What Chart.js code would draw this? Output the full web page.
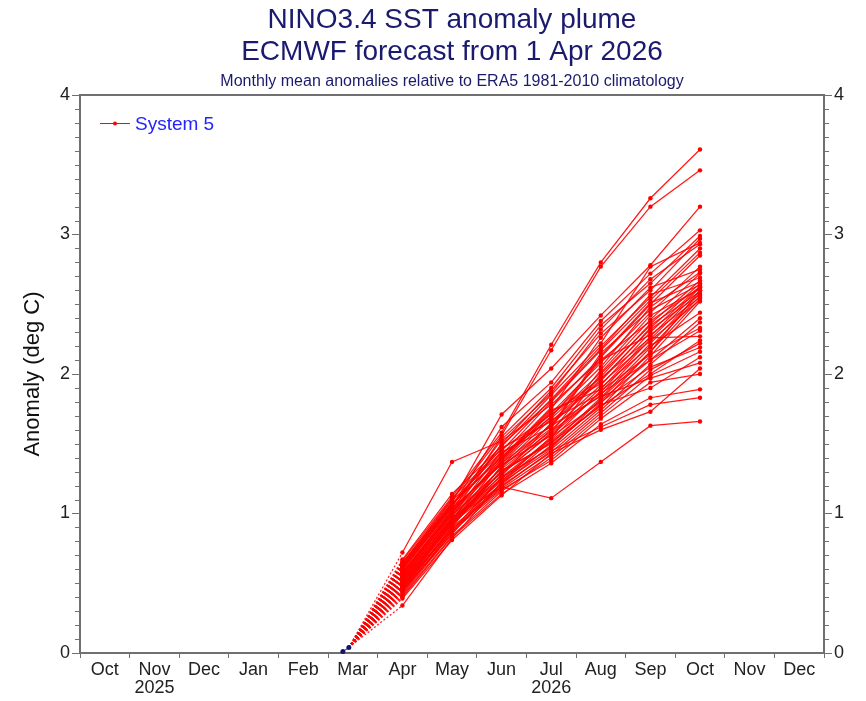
<!DOCTYPE html>
<html>
<head>
<meta charset="utf-8">
<title>NINO3.4 SST anomaly plume</title>
<script src="https://cdn.jsdelivr.net/npm/chart.js@4/dist/chart.umd.min.js"></script>
<style>
  body { margin: 0; background: #fff; }
  canvas { display: block; }
</style>
</head>
<body>
<canvas id="plume" width="866" height="701"></canvas>
<script>
// month axis: Oct 2025 = 0 ... Dec 2026 = 14
const monthLabels = ['Oct', ['Nov', '2025'], 'Dec', 'Jan', 'Feb', 'Mar', 'Apr', 'May', 'Jun',
  ['Jul', '2026'], 'Aug', 'Sep', 'Oct', 'Nov', 'Dec'];
const yTicks = [0, 1, 2, 3, 4];

// observed (analysis) points just before the start date
const obsX = [4.8, 4.92];
const obsY = [0.01, 0.04];

// forecast months (index on the month axis)
const fcX = [6, 7, 8, 9, 10, 11, 12];

// 51 ensemble members, one array per forecast month
const aprVals = [0.66, 0.64, 0.72, 0.46, 0.34, 0.62, 0.60, 0.58, 0.55, 0.67, 0.53, 0.50, 0.65, 0.48, 0.57, 0.44, 0.61,
  0.52, 0.63, 0.49, 0.56, 0.47, 0.59, 0.43, 0.54, 0.51, 0.45, 0.62, 0.50, 0.57, 0.42, 0.55, 0.60, 0.46,
  0.53, 0.64, 0.48, 0.52, 0.41, 0.58, 0.44, 0.51, 0.40, 0.47, 0.54, 0.39, 0.63, 0.56, 0.49, 0.61, 0.45];
const mayVals = [1.12, 1.10, 1.37, 0.96, 0.82, 1.08, 1.05, 1.02, 1.00, 1.14, 0.98, 0.95, 1.07, 0.93, 1.03, 0.90, 1.06,
  0.97, 1.09, 0.94, 1.01, 0.92, 1.04, 0.88, 0.99, 0.96, 0.91, 1.07, 0.95, 1.02, 0.86, 0.99, 1.04, 0.90,
  0.97, 1.11, 0.89, 0.94, 0.84, 1.00, 0.87, 0.93, 0.83, 0.88, 0.96, 0.81, 1.06, 1.01, 0.92, 1.05, 0.85];
const junVals = [1.58, 1.56, 1.52, 1.19, 1.22, 1.71, 1.62, 1.55, 1.50, 1.48, 1.45, 1.42, 1.40, 1.38, 1.36, 1.34, 1.47,
  1.33, 1.44, 1.30, 1.39, 1.28, 1.35, 1.26, 1.32, 1.27, 1.31, 1.41, 1.24, 1.37, 1.22, 1.29, 1.43, 1.20,
  1.25, 1.46, 1.18, 1.23, 1.16, 1.36, 1.17, 1.21, 1.14, 1.19, 1.30, 1.13, 1.49, 1.39, 1.34, 1.53, 1.26];
const julVals = [2.21, 2.17, 1.78, 1.11, 1.52, 2.04, 1.94, 1.90, 1.88, 1.85, 1.82, 1.80, 1.76, 1.72, 1.70, 1.68, 1.66,
  1.64, 1.62, 1.60, 1.74, 1.58, 1.56, 1.54, 1.59, 1.65, 1.50, 1.69, 1.48, 1.73, 1.46, 1.57, 1.67, 1.44,
  1.53, 1.71, 1.42, 1.55, 1.40, 1.63, 1.38, 1.49, 1.36, 1.45, 1.51, 1.43, 1.81, 1.75, 1.61, 1.86, 1.47];
const augVals = [2.80, 2.77, 2.10, 1.37, 1.81, 2.42, 2.38, 2.35, 2.29, 2.22, 2.20, 2.17, 2.12, 2.08, 2.05, 2.01, 1.98,
  1.95, 2.15, 1.92, 1.89, 2.03, 1.87, 2.00, 1.85, 1.96, 1.83, 2.10, 1.79, 1.93, 1.76, 1.90, 1.86, 1.74,
  1.88, 1.97, 1.72, 1.80, 1.70, 1.84, 1.68, 1.78, 1.64, 1.62, 1.77, 1.60, 2.18, 2.26, 2.13, 2.32, 1.82];
const sepVals = [3.26, 3.20, 2.38, 1.63, 2.10, 2.78, 2.72, 2.65, 2.60, 2.77, 2.55, 2.53, 2.50, 2.44, 2.48, 2.39, 2.36,
  2.33, 2.46, 2.30, 2.27, 2.42, 2.25, 2.35, 2.22, 2.32, 2.19, 2.28, 2.16, 2.24, 2.13, 2.20, 2.10, 2.07,
  2.14, 2.26, 2.03, 2.05, 1.99, 1.97, 1.94, 1.90, 1.83, 1.78, 2.00, 1.73, 2.57, 2.62, 2.51, 2.68, 2.16];
const octVals = [3.61, 3.46, 2.62, 1.66, 2.31, 3.20, 3.03, 2.99, 2.97, 2.94, 2.90, 2.87, 2.85, 2.77, 2.73, 2.72, 2.67,
  2.65, 2.64, 2.63, 2.62, 2.61, 2.60, 2.59, 2.58, 2.57, 2.56, 2.55, 2.54, 2.53, 2.52, 2.44, 2.40, 2.37,
  2.33, 2.27, 2.22, 2.19, 2.16, 2.08, 2.00, 2.12, 1.89, 1.83, 2.24, 2.04, 2.69, 2.75, 2.66, 2.93, 2.60];

const axisGrey = '#707070';
const labelColor = '#222';
const fontFamily = '"Liberation Sans", Arial, Helvetica, sans-serif';

// build one dataset per member, starting from the last observed point (dotted first leg)
const monthCols = [aprVals, mayVals, junVals, julVals, augVals, sepVals, octVals];
const startX = obsX[obsX.length - 1];
const startY = obsY[obsY.length - 1];
const memberSets = aprVals.map((_, m) => ({
  label: 'System 5',
  data: [{ x: startX, y: startY }].concat(fcX.map((x, k) => ({ x: x, y: monthCols[k][m] }))),
  borderColor: 'rgba(255,0,0,0.9)',
  backgroundColor: '#ff0000',
  borderWidth: 1.25,
  pointRadius: ctx => ctx.dataIndex === 0 ? 0 : 2.2,
  pointBorderWidth: 0,
  pointBackgroundColor: '#ff0000',
  tension: 0,
  segment: {
    borderDash: ctx => ctx.p0DataIndex === 0 ? [2, 2] : undefined
  }
}));

const obsSet = {
  label: 'Analysis',
  data: obsX.map((x, i) => ({ x: x, y: obsY[i] })),
  borderColor: '#141470',
  backgroundColor: '#141470',
  borderWidth: 1,
  pointRadius: 2.5,
  pointBorderWidth: 0,
  pointBackgroundColor: '#141470',
  clip: false
};

// frame top, minor y ticks and the in-plot legend
const extras = {
  id: 'extras',
  afterDraw(chart) {
    const { ctx, chartArea: a, scales } = chart;
    const y = scales.y;
    ctx.save();
    ctx.strokeStyle = axisGrey;
    ctx.lineWidth = 2;
    ctx.beginPath();
    ctx.moveTo(a.left - 1, a.top);
    ctx.lineTo(a.right + 1, a.top);
    ctx.stroke();

    ctx.lineWidth = 1;
    ctx.beginPath();
    for (let v = 1; v < 40; v++) {
      if (v % 10 === 0) continue;
      const py = Math.round(y.getPixelForValue(v / 10)) + 0.5;
      ctx.moveTo(a.left - 5, py);
      ctx.lineTo(a.left, py);
      ctx.moveTo(a.right, py);
      ctx.lineTo(a.right + 5, py);
    }
    ctx.stroke();

    // legend
    const ly = a.top + 28.5;
    ctx.strokeStyle = '#ff0000';
    ctx.beginPath();
    ctx.moveTo(a.left + 20, ly);
    ctx.lineTo(a.left + 50, ly);
    ctx.stroke();
    ctx.fillStyle = '#ff0000';
    ctx.beginPath();
    ctx.arc(a.left + 35, ly, 2, 0, Math.PI * 2);
    ctx.fill();
    ctx.fillStyle = '#2424ff';
    ctx.font = '19px ' + fontFamily;
    ctx.textBaseline = 'middle';
    ctx.fillText('System 5', a.left + 55, ly + 1);
    ctx.restore();
  }
};

const yAxis = (pos, w) => ({
  type: 'linear',
  position: pos,
  min: 0,
  max: 4,
  afterBuildTicks: s => { s.ticks = yTicks.map(v => ({ value: v })); },
  ticks: { color: labelColor, font: { family: fontFamily, size: 18 }, padding: 2 },
  grid: { drawOnChartArea: false, tickLength: 8, tickColor: axisGrey, tickWidth: 1 },
  border: { color: axisGrey, width: 2 },
  afterFit: s => { s.width = w; }
});

const yLeft = yAxis('left', 80);
yLeft.title = {
  display: true,
  text: 'Anomaly (deg C)',
  color: '#111',
  font: { family: fontFamily, size: 22 },
  padding: { top: 20, bottom: 0 }
};

new Chart(document.getElementById('plume').getContext('2d'), {
  type: 'line',
  data: { datasets: [obsSet].concat(memberSets) },
  options: {
    responsive: false,
    animation: false,
    layout: { padding: 0 },
    plugins: {
      legend: { display: false },
      tooltip: { enabled: false },
      title: {
        display: true,
        fullSize: false,
        text: ['NINO3.4 SST anomaly plume', 'ECMWF forecast from 1 Apr 2026'],
        color: '#1a1a6e',
        font: { family: fontFamily, size: 28, weight: 'normal', lineHeight: 1.14 },
        padding: { top: 4, bottom: 0 }
      },
      subtitle: {
        display: true,
        fullSize: false,
        text: 'Monthly mean anomalies relative to ERA5 1981-2010 climatology',
        color: '#1a1a6e',
        font: { family: fontFamily, size: 16, lineHeight: 1.2 },
        padding: { top: 4.5, bottom: 3.5 }
      }
    },
    scales: {
      x: {
        type: 'linear',
        position: 'bottom',
        min: -0.5,
        max: 14.5,
        ticks: {
          stepSize: 0.5,
          autoSkip: false,
          maxRotation: 0,
          padding: 3,
          color: labelColor,
          font: { family: fontFamily, size: 18, lineHeight: 1.0 },
          callback: v => Number.isInteger(v) ? monthLabels[v] : ''
        },
        grid: {
          drawOnChartArea: false,
          tickLength: 5,
          tickWidth: 1,
          tickColor: ctx => Number.isInteger(ctx.tick.value) ? 'rgba(0,0,0,0)' : axisGrey
        },
        border: { color: axisGrey, width: 2 },
        afterFit: s => { s.height = 48; }
      },
      y: yLeft,
      y2: yAxis('right', 42)
    }
  },
  plugins: [extras]
});
</script>
</body>
</html>
